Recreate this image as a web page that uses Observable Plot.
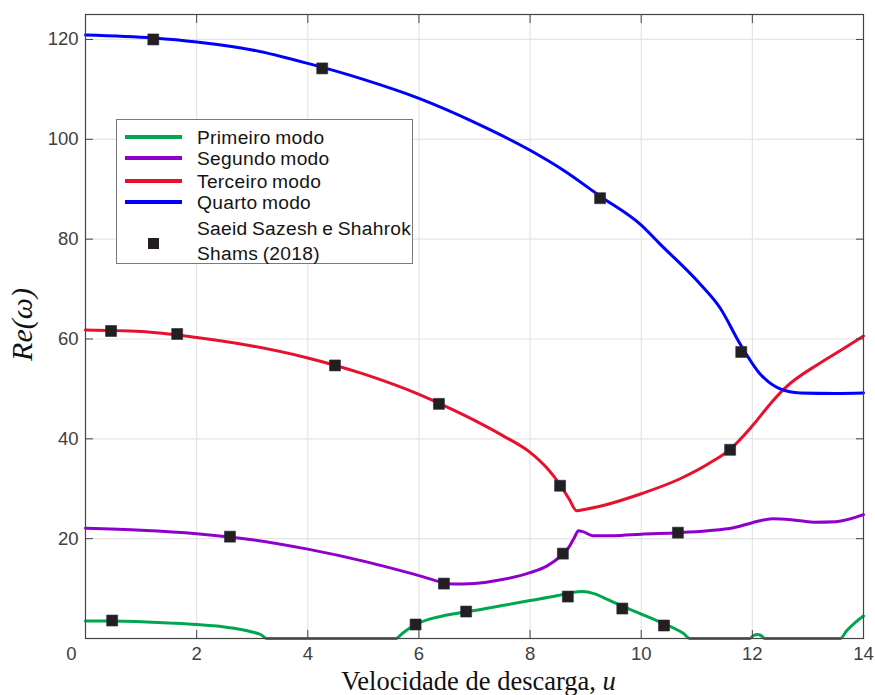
<!DOCTYPE html>
<html><head><meta charset="utf-8">
<script src="https://cdn.jsdelivr.net/npm/d3@7"></script>
<script src="https://cdn.jsdelivr.net/npm/@observablehq/plot@0.6"></script>
<style>
body{margin:0;background:#fff;}
#wrap{position:relative;width:875px;height:695px;overflow:hidden;}
#legend{position:absolute;left:116px;top:119px;width:297px;height:145px;border:1px solid #7a7a7a;background:#fff;box-sizing:border-box;font-family:"Liberation Sans",Arial,sans-serif;font-size:19.2px;letter-spacing:0.3px;word-spacing:-1.2px;color:#141414;}
#legend .sw{position:absolute;left:8px;width:57px;height:3.5px;}
#legend .tx{position:absolute;left:80px;line-height:20px;white-space:nowrap;transform:translateY(-50%);}
#legend .mk{position:absolute;width:11px;height:11px;background:#231f20;}
</style></head><body><div id="wrap"></div>
<script>
// ---- data ----
const modeNames = ["Primeiro modo", "Segundo modo", "Terceiro modo", "Quarto modo"];
const refName = ["Saeid Sazesh e Shahrok", "Shams (2018)"];

const primeiroU  = [0, 0.5, 1, 1.5, 2, 2.5, 2.8, 3.0, 3.15, 3.27, 5.59, 5.7, 5.85, 6.0, 6.3, 6.6, 7.0, 7.5, 8.0, 8.5, 8.75, 8.95, 9.15, 9.4, 9.7, 10.0, 10.4, 10.6, 10.75, 10.88, 11.95, 12.02, 12.1, 12.18, 12.22, 13.58, 13.7, 13.85, 14];
const primeiroRe = [3.5, 3.5, 3.35, 3.1, 2.8, 2.3, 1.8, 1.3, 0.8, 0, 0, 1.0, 2.2, 3.1, 4.2, 4.9, 5.6, 6.6, 7.6, 8.6, 9.2, 9.4, 9.0, 7.8, 6.3, 4.9, 3.0, 2.0, 1.1, 0, 0, 0.6, 0.8, 0.4, 0, 0, 1.6, 3.2, 4.5];

const segundoU  = [0, 1, 2, 3, 4, 5, 5.5, 6, 6.4, 6.6, 7, 7.5, 8, 8.3, 8.55, 8.7, 8.8, 8.87, 8.95, 9.13, 9.5, 10, 10.66, 11.2, 11.66, 12, 12.36, 12.7, 13.1, 13.5, 14];
const segundoRe = [22.1, 21.7, 21, 19.8, 17.9, 15.5, 14.1, 12.6, 11.3, 10.9, 11.0, 11.8, 13.2, 14.5, 16.5, 18.3, 20.3, 21.6, 21.4, 20.6, 20.6, 20.9, 21.2, 21.6, 22.2, 23.2, 24.0, 23.8, 23.3, 23.4, 24.8];

const terceiroU  = [0, 1, 2, 3, 4, 5, 6, 6.5, 7, 7.5, 8, 8.3, 8.54, 8.7, 8.84, 9.0, 9.26, 10, 10.7, 11.24, 11.6, 12, 12.36, 12.6, 13.22, 13.6, 14];
const terceiroRe = [61.8, 61.5, 60.3, 58.6, 56.2, 53, 48.9, 46.4, 43.7, 40.7, 37.3, 34.2, 30.8, 28, 25.6, 25.9, 26.5, 29, 32, 35.2, 37.9, 42.6, 47.5, 50.3, 55.2, 57.8, 60.6];

const quartoU  = [0, 1.22, 2, 3, 4, 5, 6, 7, 8, 8.6, 9.26, 10, 10.34, 11.06, 11.42, 11.78, 12.14, 12.5, 12.86, 13.5, 14];
const quartoRe = [120.9, 120.3, 119.5, 117.9, 115.2, 112, 108.2, 103.4, 97.8, 93.8, 88.6, 82.8, 79, 71, 66.2, 59, 53, 50, 49.2, 49.1, 49.2];

const refU  = [0.48, 5.94, 6.85, 8.68, 9.66, 10.41, 2.6, 6.45, 8.59, 10.66, 0.46, 1.65, 4.49, 6.36, 8.54, 11.6, 1.22, 4.26, 9.26, 11.8];
const refRe = [3.6, 2.8, 5.4, 8.4, 6.0, 2.6, 20.4, 11, 17, 21.2, 61.6, 61, 54.7, 47, 30.6, 37.8, 120, 114.2, 88.2, 57.4];

const xTicks = [0, 2, 4, 6, 8, 10, 12, 14];
const yTicks = [20, 40, 60, 80, 100, 120];
const xLabel = "Velocidade de descarga, u";
const yLabel = "Re(ω)";

// ---- styling ----
const modeColors = ["#00a650", "#9000cc", "#e8112d", "#0000ff"];

// ---- build tables ----
const seriesU = [primeiroU, segundoU, terceiroU, quartoU];
const seriesRe = [primeiroRe, segundoRe, terceiroRe, quartoRe];
const curves = [];
modeNames.forEach((m, i) => seriesU[i].forEach((u, j) => curves.push({mode: m, u, re: seriesRe[i][j]})));
const refs = refU.map((u, i) => ({u, re: refRe[i]}));

const axisColor = "#444";
const chart = Plot.plot({
  width: 875, height: 695,
  marginLeft: 85, marginRight: 12, marginTop: 14, marginBottom: 57,
  x: {domain: [0, 14]},
  y: {domain: [0, 125]},
  color: {domain: modeNames, range: modeColors},
  style: {fontFamily: "'Liberation Sans', Arial, sans-serif", fontSize: "18.5px", color: "#404040", background: "white", overflow: "visible"},
  marks: [
    Plot.gridX(xTicks.slice(1, -1), {stroke: "#e4e4e4", strokeOpacity: 1, strokeWidth: 1.2}),
    Plot.gridY(yTicks, {stroke: "#e4e4e4", strokeOpacity: 1, strokeWidth: 1.2}),
    Plot.line(curves, {x: "u", y: "re", z: "mode", stroke: "mode", strokeWidth: 3, curve: "monotone-x"}),
    Plot.dot(refs, {x: "u", y: "re", symbol: "square", r: 6.2, fill: "#231f20", stroke: "#26264a", strokeWidth: 0.6}),
    Plot.frame({stroke: axisColor, strokeWidth: 1.2}),
    Plot.axisX(xTicks, {anchor: "bottom", tickSize: -8, tickFormat: () => "", stroke: axisColor, label: null}),
    Plot.axisX(xTicks, {anchor: "top", tickSize: -8, tickFormat: () => "", stroke: axisColor, label: null}),
    Plot.axisY(yTicks, {anchor: "left", tickSize: -8, tickFormat: () => "", stroke: axisColor, label: null}),
    Plot.axisY(yTicks, {anchor: "right", tickSize: -8, tickFormat: () => "", stroke: axisColor, label: null}),
    Plot.axisX(xTicks.slice(1), {anchor: "bottom", tickSize: 0, tickPadding: 8, fill: "#404040", label: null}),
    Plot.axisX(xTicks.slice(0, 1), {anchor: "bottom", tickSize: 0, tickPadding: 8, dx: -14, fill: "#404040", label: null}),
    Plot.axisY(yTicks, {anchor: "left", tickSize: 0, tickPadding: 7, fill: "#404040", label: null}),
    Plot.text([yLabel], {frameAnchor: "left", dx: -63, dy: -2, rotate: -90, textAnchor: "middle", fontSize: 30, fontStyle: "italic", fontFamily: "'Liberation Serif', 'DejaVu Serif', serif", fill: "#111"}),
    Plot.text([xLabel], {frameAnchor: "bottom", dy: 51, dx: 4, lineAnchor: "bottom", fontSize: 26.5, fontFamily: "'Liberation Serif', 'Times New Roman', serif", fill: "#111"})
  ]
});

// italic math u in the x label
d3.select(chart).selectAll("text").filter(function () { return this.textContent === xLabel; }).each(function () {
  const t = d3.select(this);
  t.text(xLabel.slice(0, -1));
  t.append("tspan").attr("font-style", "italic").text(xLabel.slice(-1));
});

const wrap = document.getElementById("wrap");
wrap.appendChild(chart);

// ---- legend ----
const lg = document.createElement("div");
lg.id = "legend";
const rowY = [17, 38, 61, 82];
modeNames.forEach((m, i) => {
  const sw = document.createElement("div");
  sw.className = "sw"; sw.style.top = (rowY[i] - 1.75) + "px"; sw.style.background = modeColors[i];
  lg.appendChild(sw);
  const tx = document.createElement("div");
  tx.className = "tx"; tx.style.top = (rowY[i] + 1) + "px"; tx.textContent = m;
  lg.appendChild(tx);
});
[109, 134].forEach((y, k) => {
  const tx = document.createElement("div");
  tx.className = "tx"; tx.style.top = y + "px"; tx.textContent = refName[k];
  lg.appendChild(tx);
});
const mk = document.createElement("div");
mk.className = "mk"; mk.style.left = "31px"; mk.style.top = "118px";
lg.appendChild(mk);
wrap.appendChild(lg);
</script>
</body></html>
